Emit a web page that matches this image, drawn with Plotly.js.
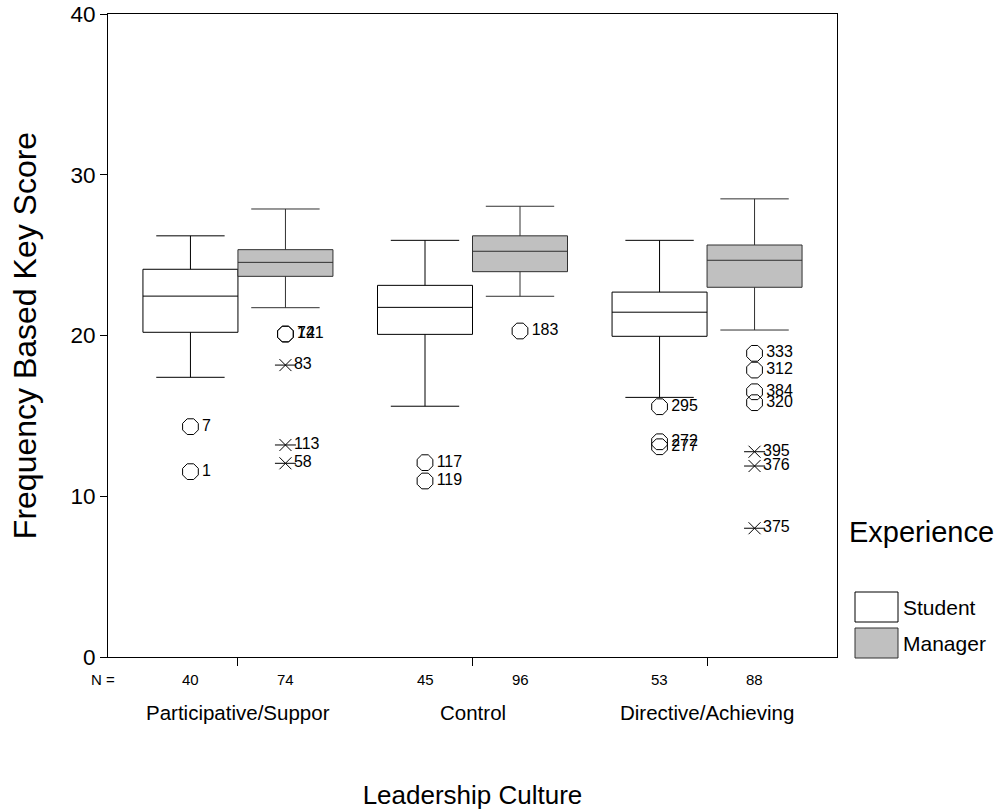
<!DOCTYPE html>
<html>
<head>
<meta charset="utf-8">
<script src="https://cdn.plot.ly/plotly-3.0.1.min.js"></script>
<style>html,body{margin:0;padding:0;background:#fff;}#chart{width:1006px;height:810px;}</style>
</head>
<body>
<div id="chart"></div>
<script>
// ---------- data ----------
const categories = ["Participative/Suppor", "Control", "Directive/Achieving"];
const seriesNames = ["Student", "Manager"];
const studentN = [40, 45, 53];
const managerN = [74, 96, 88];

const studentLow  = [17.4, 15.6, 16.15];
const studentQ1   = [20.2, 20.07, 19.95];
const studentMed  = [22.45, 21.75, 21.45];
const studentQ3   = [24.12, 23.12, 22.7];
const studentHigh = [26.2, 25.92, 25.92];

const managerLow  = [21.73, 22.44, 20.34];
const managerQ1   = [23.68, 23.97, 23.0];
const managerMed  = [24.55, 25.24, 24.68];
const managerQ3   = [25.34, 26.2, 25.63];
const managerHigh = [27.87, 28.04, 28.5];

// outliers (circles)
const studentOutCat = [0, 0, 1, 1, 2, 2, 2];
const studentOutVal = [14.33, 11.53, 12.09, 10.95, 15.57, 13.39, 13.08];
const studentOutId  = ["7", "1", "117", "119", "295", "272", "277"];

const managerOutCat = [0, 0, 1, 2, 2, 2, 2];
const managerOutVal = [20.09, 20.09, 20.28, 18.89, 17.85, 16.5, 15.82];
const managerOutId  = ["72", "141", "183", "333", "312", "384", "320"];

// extremes (stars)
const managerExtCat = [0, 0, 0, 2, 2, 2];
const managerExtVal = [18.16, 13.19, 12.05, 12.77, 11.88, 8.01];
const managerExtId  = ["83", "113", "58", "395", "376", "375"];

// ---------- layout constants ----------
const W = 1006, H = 810;
const L = 108, R = 837, T = 14, B = 657;
const boxgap = 0.19;
const half = (1 - boxgap) / 4;
const FONT = "Liberation Sans, Arial, sans-serif";
const px2x = p => (p - L) / (R - L);
const py2y = p => (B - p) / (B - T);

const boxCommon = {
  type: "box", boxpoints: false, whiskerwidth: 0.72,
  hoverinfo: "skip", showlegend: false
};

const labelFont = {family: FONT, size: 16, color: "#000"};

const traces = [
  Object.assign({}, boxCommon, {
    name: seriesNames[0], x: [0, 1, 2], offsetgroup: "s",
    q1: studentQ1, median: studentMed, q3: studentQ3,
    lowerfence: studentLow, upperfence: studentHigh,
    fillcolor: "#ffffff", line: {color: "#000000", width: 1}
  }),
  Object.assign({}, boxCommon, {
    name: seriesNames[1], x: [0, 1, 2], offsetgroup: "m",
    q1: managerQ1, median: managerMed, q3: managerQ3,
    lowerfence: managerLow, upperfence: managerHigh,
    fillcolor: "#c0c0c0", line: {color: "#303030", width: 1}
  }),
  {
    type: "scatter", mode: "markers+text", showlegend: false, hoverinfo: "skip",
    x: studentOutCat.map(c => c - half), y: studentOutVal, text: studentOutId,
    textposition: "middle right", textfont: labelFont,
    marker: {symbol: "octagon-open", size: 17, color: "#000", line: {width: 1, color: "#000"}},
    cliponaxis: false
  },
  {
    type: "scatter", mode: "markers+text", showlegend: false, hoverinfo: "skip",
    x: managerOutCat.map(c => c + half), y: managerOutVal, text: managerOutId,
    textposition: "middle right", textfont: labelFont,
    marker: {symbol: "octagon-open", size: 17, color: "#000", line: {width: 1, color: "#000"}},
    cliponaxis: false
  },
  {
    type: "scatter", mode: "markers", showlegend: false, hoverinfo: "skip",
    x: managerExtCat.map(c => c + half), y: managerExtVal,
    marker: {symbol: "line-ew-open", size: 15, color: "#000", line: {width: 1, color: "#000"}}
  },
  {
    type: "scatter", mode: "markers+text", showlegend: false, hoverinfo: "skip",
    x: managerExtCat.map(c => c + half), y: managerExtVal, text: managerExtId,
    textposition: "middle right", textfont: labelFont,
    marker: {symbol: "x-thin-open", size: 12, color: "#000", line: {width: 1, color: "#000"}}
  }
];

const annotations = [];
// N row
annotations.push({xref: "paper", yref: "paper", x: px2x(103), y: py2y(679),
  text: "N =", showarrow: false, font: {family: FONT, size: 15, color: "#000"}, xanchor: "center", yanchor: "middle"});
for (let i = 0; i < categories.length; i++) {
  annotations.push({xref: "x", yref: "paper", x: i - half, y: py2y(679), text: String(studentN[i]),
    showarrow: false, font: {family: FONT, size: 15, color: "#000"}, xanchor: "center", yanchor: "middle"});
  annotations.push({xref: "x", yref: "paper", x: i + half, y: py2y(679), text: String(managerN[i]),
    showarrow: false, font: {family: FONT, size: 15, color: "#000"}, xanchor: "center", yanchor: "middle"});
  annotations.push({xref: "x", yref: "paper", x: i, y: py2y(713), text: categories[i],
    showarrow: false, font: {family: FONT, size: 20.5, color: "#000"}, xanchor: "center", yanchor: "middle"});
}
// legend (custom)
annotations.push({xref: "paper", yref: "paper", x: px2x(847), y: py2y(532), text: "Experience",
  showarrow: false, font: {family: FONT, size: 29, color: "#000"}, xanchor: "left", yanchor: "middle"});
annotations.push({xref: "paper", yref: "paper", x: px2x(901), y: py2y(607), text: seriesNames[0],
  showarrow: false, font: {family: FONT, size: 21, color: "#000"}, xanchor: "left", yanchor: "middle"});
annotations.push({xref: "paper", yref: "paper", x: px2x(901), y: py2y(643), text: seriesNames[1],
  showarrow: false, font: {family: FONT, size: 21, color: "#000"}, xanchor: "left", yanchor: "middle"});

const shapes = [
  {type: "rect", xref: "paper", yref: "paper", x0: px2x(855), x1: px2x(898), y0: py2y(622), y1: py2y(592),
   fillcolor: "#ffffff", line: {color: "#000", width: 1}},
  {type: "rect", xref: "paper", yref: "paper", x0: px2x(855), x1: px2x(898), y0: py2y(658), y1: py2y(628),
   fillcolor: "#c0c0c0", line: {color: "#303030", width: 1}}
];

const layout = {
  width: W, height: H,
  margin: {l: L, r: W - R, t: T, b: H - B, pad: 0},
  paper_bgcolor: "#ffffff", plot_bgcolor: "#ffffff",
  font: {family: FONT, color: "#000"},
  boxmode: "group", boxgap: boxgap, boxgroupgap: 0,
  xaxis: {
    range: [-0.554, 2.554], tickvals: [0, 1, 2], showticklabels: false,
    ticks: "outside", ticklen: 8, tickcolor: "#000", tickwidth: 1,
    showline: true, mirror: true, linecolor: "#000", linewidth: 1,
    showgrid: false, zeroline: false, fixedrange: true,
    title: {text: "Leadership Culture", font: {family: FONT, size: 26, color: "#000"}, standoff: 121}
  },
  yaxis: {
    range: [0, 40], tickvals: [0, 10, 20, 30, 40],
    ticks: "outside", ticklen: 7, tickcolor: "#000", tickwidth: 1,
    tickfont: {family: FONT, size: 22.5, color: "#000"},
    showline: true, mirror: true, linecolor: "#000", linewidth: 1,
    showgrid: false, zeroline: false, fixedrange: true,
    title: {text: "Frequency Based Key Score", font: {family: FONT, size: 32, color: "#000"}, standoff: 24}
  },
  annotations: annotations,
  shapes: shapes,
  showlegend: false
};

Plotly.newPlot("chart", traces, layout, {displayModeBar: false, staticPlot: true});
</script>
</body>
</html>
